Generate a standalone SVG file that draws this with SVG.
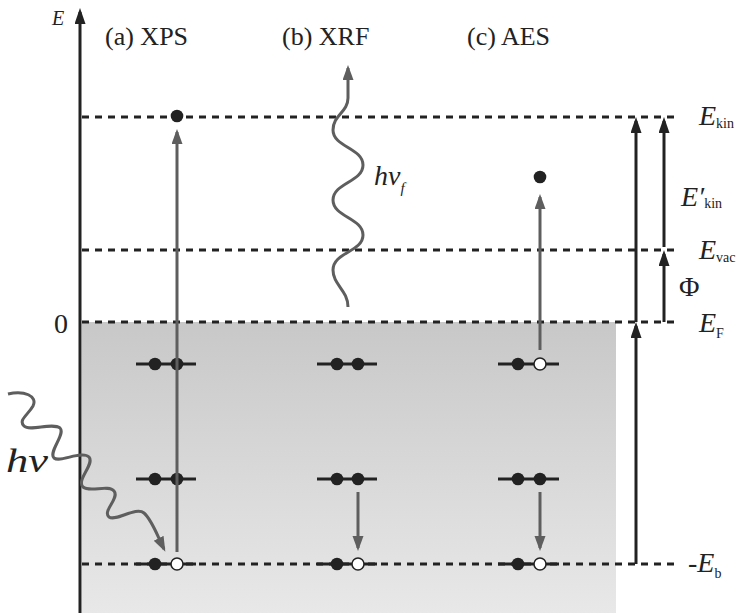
<svg xmlns="http://www.w3.org/2000/svg" width="739" height="616" viewBox="0 0 739 616">
  <defs>
    <linearGradient id="bandFill" x1="0" y1="0" x2="0" y2="1">
      <stop offset="0" stop-color="#c8c8c8"/>
      <stop offset="1" stop-color="#e8e8e8"/>
    </linearGradient>
    <marker id="headBlack" markerUnits="userSpaceOnUse" markerWidth="16" markerHeight="12" refX="12" refY="5.5" orient="auto">
      <path d="M0,0 L16,5.5 L0,11 z" fill="#222"/>
    </marker>
    <marker id="headGrey" markerUnits="userSpaceOnUse" markerWidth="16" markerHeight="12" refX="12" refY="5.5" orient="auto">
      <path d="M0,0 L15,5.5 L0,11 z" fill="#5e5e5e"/>
    </marker>
  </defs>
  <style>
    .it { font-style: italic; }
    .dash { stroke: #222; stroke-width: 3; stroke-dasharray: 7 6; fill: none; }
    .level { stroke: #222; stroke-width: 3; }
    .e { fill: #222; }
    .hole { fill: #fff; stroke: #222; stroke-width: 1.5; }
    .grey { stroke: #5e5e5e; stroke-width: 3; fill: none; marker-end: url(#headGrey); }
    .black { stroke: #222; stroke-width: 3; fill: none; marker-end: url(#headBlack); }
  </style>

  <!-- occupied band below the Fermi level -->
  <rect id="band" x="82" y="322" width="534" height="291" fill="url(#bandFill)"/>

  <!-- energy reference levels -->
  <g id="reference-levels">
    <line class="dash" x1="82" y1="117" x2="678" y2="117"/>
    <line class="dash" x1="82" y1="250" x2="678" y2="250"/>
    <line class="dash" x1="82" y1="322" x2="678" y2="322"/>
    <line class="dash" x1="82" y1="564" x2="680" y2="564"/>
  </g>

  <!-- (a) XPS -->
  <g id="xps">
    <line class="level" x1="136" y1="364" x2="196" y2="364"/>
    <line class="level" x1="136" y1="479" x2="196" y2="479"/>
    <line class="level" x1="136" y1="564" x2="196" y2="564"/>
    <circle class="e" cx="155" cy="364" r="6.3"/>
    <circle class="e" cx="177" cy="364" r="6.3"/>
    <circle class="e" cx="155" cy="479" r="6.3"/>
    <circle class="e" cx="177" cy="479" r="6.3"/>
    <circle class="e" cx="155" cy="564" r="6.3"/>
    <circle class="e" cx="177" cy="116" r="6.3"/>
  </g>

  <!-- (b) XRF -->
  <g id="xrf">
    <line class="level" x1="317" y1="364" x2="377" y2="364"/>
    <line class="level" x1="317" y1="479" x2="377" y2="479"/>
    <line class="level" x1="317" y1="564" x2="377" y2="564"/>
    <circle class="e" cx="337" cy="364" r="6.3"/>
    <circle class="e" cx="358" cy="364" r="6.3"/>
    <circle class="e" cx="337" cy="479" r="6.3"/>
    <circle class="e" cx="358" cy="479" r="6.3"/>
    <circle class="e" cx="337" cy="564" r="6.3"/>
  </g>

  <!-- (c) AES -->
  <g id="aes">
    <line class="level" x1="498" y1="364" x2="559" y2="364"/>
    <line class="level" x1="498" y1="479" x2="559" y2="479"/>
    <line class="level" x1="498" y1="564" x2="559" y2="564"/>
    <circle class="e" cx="518" cy="364" r="6.3"/>
    <circle class="e" cx="518" cy="479" r="6.3"/>
    <circle class="e" cx="540" cy="479" r="6.3"/>
    <circle class="e" cx="518" cy="564" r="6.3"/>
    <circle class="e" cx="540" cy="177" r="6.3"/>
  </g>

  <!-- transitions, photons and energy arrows -->
  <g id="connectors">
    <line class="black" x1="80" y1="613" x2="80" y2="12"/>
    <line class="grey" x1="177" y1="552" x2="177" y2="132"/>
    <line class="grey" x1="540" y1="350" x2="540" y2="197"/>
    <line class="grey" x1="358" y1="492" x2="358" y2="548"/>
    <line class="grey" x1="540" y1="492" x2="540" y2="548"/>
    <path class="grey" d="M348,307 C348,290 333,285 333,270 C333,252 363,252 363,235 C363,218 333,217 333,200 C333,183 363,182 363,165 C363,148 333,147 333,130 C333,115 348,112 348,98 L348,68"/>
    <path class="grey" d="M8,394 C24,390 38,396 33,406 C28,415 18,420 24,426 C30,432 52,422 60,428 C66,434 48,452 54,458 C60,463 82,450 89,457 C95,464 76,480 83,487 C90,493 108,484 114,491 C120,498 102,511 109,517 C116,522 136,506 144,513 C152,520 157,535 164,549"/>
    <line class="black" x1="636" y1="564" x2="636" y2="326"/>
    <line class="black" x1="636" y1="322" x2="636" y2="121"/>
    <line class="black" x1="664" y1="322" x2="664" y2="254"/>
    <line class="black" x1="664" y1="247" x2="664" y2="121"/>
  </g>

  <!-- holes drawn over the transition arrows -->
  <g id="holes">
    <circle class="hole" cx="177" cy="564" r="6"/>
    <circle class="hole" cx="358" cy="564" r="6"/>
    <circle class="hole" cx="540" cy="564" r="6"/>
    <circle class="hole" cx="540" cy="364" r="6"/>
  </g>

  <!-- labels -->
  <g id="labels" font-family="'Liberation Serif', 'Times New Roman', Times, serif" fill="#222">
    <text class="it" x="52" y="25" font-size="20">E</text>
    <text x="105" y="45" font-size="26">(a) XPS</text>
    <text x="282" y="45" font-size="26">(b) XRF</text>
    <text x="467" y="45" font-size="26">(c) AES</text>
    <text x="54" y="333" font-size="28">0</text>
    <text class="it" x="6" y="472" font-size="34" textLength="42" lengthAdjust="spacingAndGlyphs">hν</text>
    <text x="374" y="185"><tspan class="it" font-size="28">hν</tspan><tspan class="it" font-size="15" dy="8">f</tspan></text>
    <text x="699" y="125"><tspan class="it" font-size="28">E</tspan><tspan font-size="14" dy="3">kin</tspan></text>
    <text x="681" y="206"><tspan class="it" font-size="28">E′</tspan><tspan font-size="14" dy="2">kin</tspan></text>
    <text x="699" y="259"><tspan class="it" font-size="28">E</tspan><tspan font-size="14" dy="3">vac</tspan></text>
    <text x="679" y="296" font-size="28">Φ</text>
    <text x="699" y="332"><tspan class="it" font-size="28">E</tspan><tspan font-size="14" dy="6">F</tspan></text>
    <text x="688" y="572"><tspan font-size="28">-</tspan><tspan class="it" font-size="28">E</tspan><tspan font-size="14" dy="6">b</tspan></text>
  </g>
</svg>
